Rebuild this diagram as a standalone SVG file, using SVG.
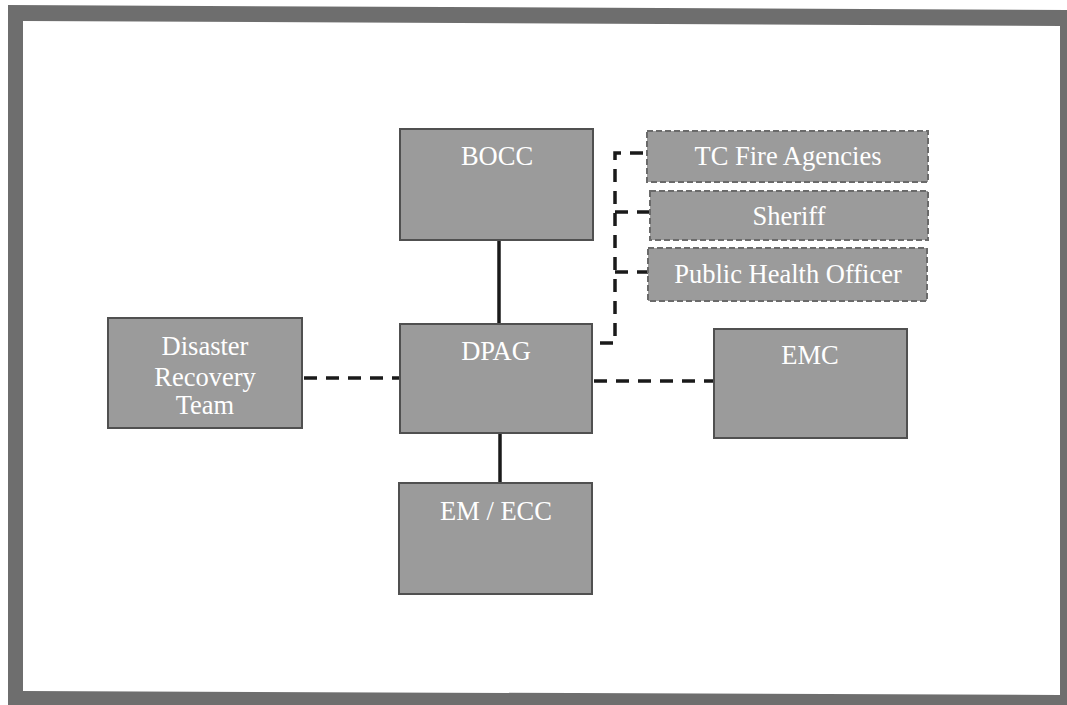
<svg xmlns="http://www.w3.org/2000/svg" width="1067" height="705" viewBox="0 0 1067 705">
  <style>
    .box { fill: #9b9b9b; stroke: #505050; stroke-width: 2; }
    .dbox { fill: #9b9b9b; stroke: #6a6a6a; stroke-width: 2; stroke-dasharray: 6 3; }
    .lbl { fill: #ffffff; font-family: "Liberation Serif", "Times New Roman", serif; font-size: 26.5px; text-anchor: middle; }
    .solid { stroke: #1a1a1a; stroke-width: 3.5; fill: none; }
    .dash { stroke: #1a1a1a; stroke-width: 3.5; fill: none; stroke-dasharray: 13 9; }
  </style>
  <rect x="0" y="0" width="1067" height="705" fill="#ffffff"/>
  <g id="frame">
    <polygon points="8,5 1067,10 1067,705 8,705" fill="#6e6e6e"/>
    <polygon points="23,21 1060,26 1060,695 23,691" fill="#ffffff"/>
  </g>
  <g id="connectors">
    <line class="solid" x1="499" y1="240" x2="499" y2="324"/>
    <line class="solid" x1="500" y1="433" x2="500" y2="483"/>
    <line class="dash" x1="304" y1="378" x2="400" y2="378"/>
    <line class="dash" x1="594" y1="381" x2="714" y2="381"/>
    <polyline class="dash" points="600,343 615,343 615,153 647,153"/>
    <line class="dash" x1="615" y1="212" x2="650" y2="212"/>
    <line class="dash" x1="615" y1="272" x2="648" y2="272"/>
  </g>
  <g id="bocc">
    <rect class="box" x="400" y="129" width="193" height="111"/>
    <text class="lbl" x="497" y="165">BOCC</text>
  </g>
  <g id="dpag">
    <rect class="box" x="400" y="324" width="192" height="109"/>
    <text class="lbl" x="496" y="360">DPAG</text>
  </g>
  <g id="drt">
    <rect class="box" x="108" y="318" width="194" height="110"/>
    <text class="lbl" x="205" y="355">Disaster</text>
    <text class="lbl" x="205" y="386">Recovery</text>
    <text class="lbl" x="205" y="414">Team</text>
  </g>
  <g id="emecc">
    <rect class="box" x="399" y="483" width="193" height="111"/>
    <text class="lbl" x="496" y="520">EM / ECC</text>
  </g>
  <g id="emc">
    <rect class="box" x="714" y="329" width="193" height="109"/>
    <text class="lbl" x="810" y="364">EMC</text>
  </g>
  <g id="tcfire">
    <rect class="dbox" x="647" y="131" width="281" height="51"/>
    <text class="lbl" x="788" y="165">TC Fire Agencies</text>
  </g>
  <g id="sheriff">
    <rect class="dbox" x="650" y="191" width="278" height="49"/>
    <text class="lbl" x="789" y="225">Sheriff</text>
  </g>
  <g id="pho">
    <rect class="dbox" x="648" y="248" width="279" height="53"/>
    <text class="lbl" x="788" y="283">Public Health Officer</text>
  </g>
</svg>
